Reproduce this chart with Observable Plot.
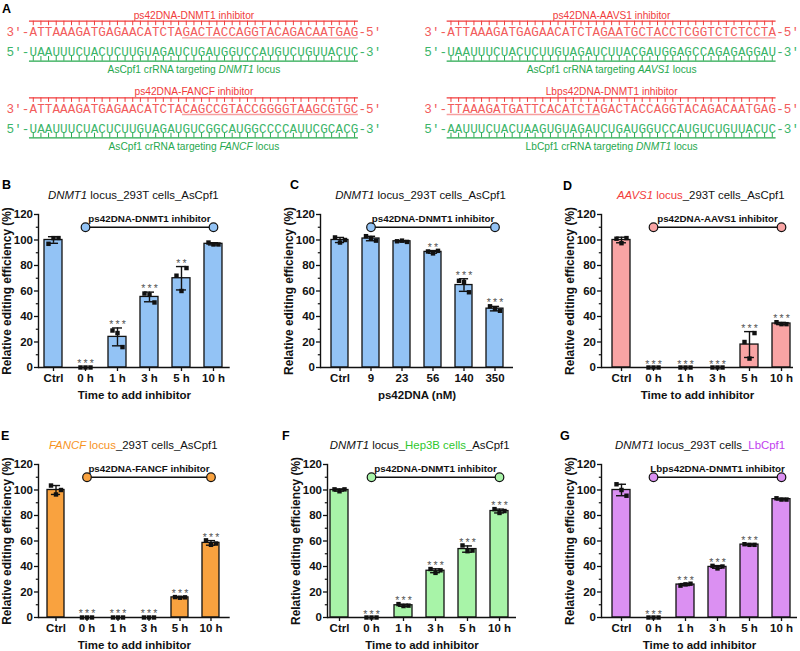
<!DOCTYPE html>
<html><head><meta charset="utf-8">
<script src="https://cdn.jsdelivr.net/npm/d3@7"></script>
<script src="https://cdn.jsdelivr.net/npm/@observablehq/plot@0.6"></script>
<style>
body{margin:0;background:#fff;width:800px;height:651px;overflow:hidden;position:relative;font-family:"Liberation Sans",Arial,sans-serif;}
.abs{position:absolute;}
.letter{font-weight:bold;font-size:12.5px;line-height:1;}
.title{font-size:11.4px;line-height:14px;white-space:nowrap;transform:translateX(-50%);color:#111;}
svg{overflow:visible;}
</style></head><body>
<script>
// ---------------- Panel A data ----------------
const seqInhibitorLabels = ["ps42DNA-DNMT1 inhibitor","ps42DNA-AAVS1 inhibitor","ps42DNA-FANCF inhibitor","Lbps42DNA-DNMT1 inhibitor"];
const seqEnzymes = ["AsCpf1","AsCpf1","AsCpf1","LbCpf1"];
const seqLoci = ["DNMT1","AAVS1","FANCF","DNMT1"];
const seqInhibitorStrands = [
  "ATTAAAGATGAGAACATCTAGACTACCAGGTACAGACAATGAG",
  "ATTAAAGATGAGAACATCTAGAATGCTACCTCGGTCTCTCCTA",
  "ATTAAAGATGAGAACATCTACAGCCGTACCGGGGTAAGCGTGC",
  "TTAAAGATGATTCACATCTAGACTACCAGGTACAGACAATGAG"];
const seqCrRNAStrands = [
  "UAAUUUCUACUCUUGUAGAUCUGAUGGUCCAUGUCUGUUACUC",
  "UAAUUUCUACUCUUGUAGAUCUUACGAUGGAGCCAGAGAGGAU",
  "UAAUUUCUACUCUUGUAGAUGUCGGCAUGGCCCCAUUCGCACG",
  "AAUUUCUACUAAGUGUAGAUCUGAUGGUCCAUGUCUGUUACUC"];
const seqUnderlineStart = [20, 20, 20, 0];
const seqUnderlineEnd = [43, 43, 43, 20];

// ---------------- Bar panel data ----------------
const panelLetters = ["B","C","D","E","F","G"];
const timeCategories = ["Ctrl","0 h","1 h","3 h","5 h","10 h"];
const doseCategories = ["Ctrl","9","23","56","140","350"];
const xAxisTitles = ["Time to add inhibitor","ps42DNA (nM)","Time to add inhibitor","Time to add inhibitor","Time to add inhibitor","Time to add inhibitor"];
const yAxisTitle = "Relative editing efficiency (%)";
const inhibitorLabels = ["ps42DNA-DNMT1 inhibitor","ps42DNA-DNMT1 inhibitor","ps42DNA-AAVS1 inhibitor","ps42DNA-FANCF inhibitor","ps42DNA-DNMT1 inhibitor","Lbps42DNA-DNMT1 inhibitor"];
const barColors = ["#93c3f5","#93c3f5","#f9a4a4","#f9a23f","#a8f4a8","#db90f2"];
// title segments: [text, colour or null, italic]
const panelTitles = [
  [["DNMT1",null,true],[" locus_293T cells_AsCpf1",null,false]],
  [["DNMT1",null,true],[" locus_293T cells_AsCpf1",null,false]],
  [["AAVS1","#f23c3c",true],[" locus","#f23c3c",false],["_293T cells_AsCpf1",null,false]],
  [["FANCF","#f7931e",true],[" locus","#f7931e",false],["_293T cells_AsCpf1",null,false]],
  [["DNMT1",null,true],[" locus_",null,false],["Hep3B cells","#2ec82e",false],["_AsCpf1",null,false]],
  [["DNMT1",null,true],[" locus_293T cells_",null,false],["LbCpf1","#c23ff0",false]]
];
const replicatesB = [[97,101.5,101.5],[0,0,0],[29,27,16],[58,57,51],[72,60,78],[98,96.5,96.5]];
const replicatesC = [[102,98,100],[103,101,99.5],[99,99.5,98.5],[91,89.5,91.5],[68,67,59],[48,46,44.5]];
const replicatesD = [[101,97.5,101.5],[0,0,0],[0,0,0],[0,0,0],[20,7,27],[35.5,34,34]];
const replicatesE = [[103.5,96.5,100],[0,0,0],[0,0,0],[0,0,0],[16,15.5,15.8],[60.5,57,58]];
const replicatesF = [[100.5,99,100.5],[0,0,0],[10.5,9,9.3],[38,35,37],[56.5,52,52.5],[85,82,83.5]];
const replicatesG = [[104.5,100,95.5],[0,0,0],[25,26,26.5],[40.5,38.5,40],[57.5,57,57],[93.5,92.5,92.5]];
const starsB = ["","***","***","***","**",""];
const starsC = ["","","","**","***","***"];
const starsD = ["","***","***","***","***","***"];
const starsE = ["","***","***","***","***","***"];
const starsF = ["","***","***","***","***","***"];
const starsG = ["","***","***","***","***",""];
const yTicks = [0,20,40,60,80,100,120];
const yMinorTicks = [10,30,50,70,90,110];
const inhibitorLevel = 110;

// ---------------- Panel A ----------------
(function(){
  const CW = 7.65;
  const colOrigin = [6/CW, 423.7/CW];
  const rowBase = [0, 76.7];
  const RED = "#f03c3c", RED_T = "#f25c5c", GREEN = "#27a84e", GREEN_T = "#3cb56a";
  const chars = [], ticks = [], lines = [], under = [], labels = [];
  seqInhibitorStrands.forEach((s, i) => {
    const o = colOrigin[i % 2], b = rowBase[i >> 1];
    const red = "3\u2032-" + s + "-5\u2032";
    const grn = "5\u2032-" + seqCrRNAStrands[i] + "-3\u2032";
    [...red].forEach((ch, k) => chars.push({x: o + k + 0.5, y: b + 31.7, ch, c: RED_T}));
    [...grn].forEach((ch, k) => chars.push({x: o + k + 0.5, y: b + 51.3, ch, c: GREEN_T}));
    const n = s.length;
    for (let k = 0; k < n; k++) {
      ticks.push({x: o + 3 + k + 0.5, y1: b + 20.7, y2: b + 25.2, c: RED});
      ticks.push({x: o + 3 + k + 0.5, y1: b + 56, y2: b + 60.7, c: GREEN});
    }
    lines.push({x1: o + 3, x2: o + 3 + n, y: b + 20.7, c: RED});
    lines.push({x1: o + 3, x2: o + 3 + n, y: b + 60.7, c: GREEN});
    under.push({x1: o + 3 + seqUnderlineStart[i], x2: o + 3 + seqUnderlineEnd[i], y: b + 37.3});
    labels.push({x: o + 3 + n / 2, y: b + 14.8, t: seqInhibitorLabels[i], c: RED});
    labels.push({x: o + 3 + n / 2, y: b + 69.2, t: seqEnzymes[i] + " crRNA targeting " + seqLoci[i] + " locus", c: GREEN, idx: i});
  });
  const svg = Plot.plot({
    width: 800, height: 156, margin: 0,
    x: {domain: [0, 800 / CW], range: [0, 800], axis: null},
    y: {domain: [0, 156], range: [0, 156], axis: null},
    style: {fontFamily: "Liberation Sans, Arial, sans-serif", background: "transparent"},
    marks: [
      Plot.ruleY(under, {x1: "x1", x2: "x2", y: "y", stroke: "#f6a0a0", strokeWidth: 1.3}),
      Plot.text(chars, {x: "x", y: "y", text: "ch", fill: "c", fontFamily: "Liberation Mono, monospace", fontSize: 12.6}),
      Plot.ruleX(ticks, {x: "x", y1: "y1", y2: "y2", stroke: "c", strokeWidth: 1}),
      Plot.ruleY(lines, {x1: "x1", x2: "x2", y: "y", stroke: "c", strokeWidth: 1.3}),
      Plot.text(labels, {x: "x", y: "y", text: "t", fill: "c", fontSize: 10.2})
    ]
  });
  svg.style.position = "absolute"; svg.style.left = "0px"; svg.style.top = "0px";
  svg.querySelectorAll("text").forEach(t => {
    const m = t.textContent.match(/^(.* crRNA targeting )(\S+)( locus)$/);
    if (m) {
      t.textContent = "";
      const ns = "http://www.w3.org/2000/svg";
      [[m[1], false], [m[2], true], [m[3], false]].forEach(([s, it]) => {
        const sp = document.createElementNS(ns, "tspan");
        sp.textContent = s; if (it) sp.setAttribute("font-style", "italic");
        t.appendChild(sp);
      });
    }
  });
  document.body.appendChild(svg);
  const a = document.createElement("div");
  a.className = "abs letter"; a.style.left = "2px"; a.style.top = "2.5px"; a.textContent = "A";
  document.body.appendChild(a);
})();

// ---------------- Bar panels ----------------
const layout = [
  {axis: 38.3, first: 53.5, last: 213.5, end: 230, y120: 214.3, title: 133.3, lx: 2, ly: 179},
  {axis: 320, first: 337.7, last: 496.7, end: 513, y120: 214.3, title: 420.5, lx: 290, ly: 179},
  {axis: 601, first: 620, last: 781.7, end: 793, y120: 214.3, title: 700.7, lx: 563, ly: 180},
  {axis: 38.3, first: 54, last: 213.3, end: 230, y120: 464.3, title: 133.3, lx: 1, ly: 430},
  {axis: 327, first: 337.7, last: 500, end: 516, y120: 464.3, title: 419.7, lx: 282, ly: 430},
  {axis: 601, first: 620.7, last: 781.7, end: 797, y120: 464.3, title: 700, lx: 560, ly: 430}
];
const allReps = [replicatesB, replicatesC, replicatesD, replicatesE, replicatesF, replicatesG];
const allStars = [starsB, starsC, starsD, starsE, starsF, starsG];
const allCats = [timeCategories, doseCategories, timeCategories, timeCategories, timeCategories, timeCategories];

panelLetters.forEach((letter, p) => {
  const L = layout[p], cats = allCats[p], reps = allReps[p], stars = allStars[p], color = barColors[p];
  const mL = 40, mT = 12, mB = 36, plotH = 153;
  const left = L.axis - mL;
  const width = L.end - left;
  const step = (L.last - L.first) / (cats.length - 1);
  const r0 = mL + (L.first - L.axis) - step / 2;
  const r1 = r0 + step * cats.length;
  const rows = cats.map((c, i) => {
    const v = reps[i], m = d3.mean(v), sd = d3.deviation(v) || 0;
    return {cat: c, mean: m, lo: m - sd, hi: m + sd, sd, stars: stars[i].split("").join("\u2009")};
  });
  const pts = cats.flatMap((c, i) => reps[i].map((v, j) => ({cat: c, v, j})));
  const eb = rows.filter(d => d.sd > 0.2);
  const ends = [{cat: cats[1]}, {cat: cats[cats.length - 1]}];
  const bw = step * 0.56, capInset = (bw - 10) / 2;
  const svg = Plot.plot({
    width, height: mT + plotH + mB, marginLeft: mL, marginTop: mT, marginBottom: mB, marginRight: 0,
    x: {type: "band", domain: cats, range: [r0, r1], paddingInner: 0.44, paddingOuter: 0.22},
    y: {domain: [0, 120]},
    style: {fontFamily: "Liberation Sans Narrow, Liberation Sans, Arial, sans-serif", fontWeight: "bold", fontSize: "11.5px", color: "#111", background: "transparent"},
    marks: [
      Plot.barY(rows, {x: "cat", y: "mean", fill: color, stroke: "#111", strokeWidth: 1.3}),
      Plot.ruleX(eb, {x: "cat", y1: "lo", y2: "hi", stroke: "#111", strokeWidth: 1.4}),
      Plot.tickY(eb, {x: "cat", y: "hi", stroke: "#111", strokeWidth: 1.4, insetLeft: capInset, insetRight: capInset}),
      Plot.tickY(eb, {x: "cat", y: "lo", stroke: "#111", strokeWidth: 1.4, insetLeft: capInset, insetRight: capInset}),
      Plot.dot(pts.filter(d => d.j === 0), {x: "cat", y: "v", symbol: "square", r: 2.5, fill: "#111", dx: -5}),
      Plot.dot(pts.filter(d => d.j === 1), {x: "cat", y: "v", symbol: "square", r: 2.5, fill: "#111", dx: 0}),
      Plot.dot(pts.filter(d => d.j === 2), {x: "cat", y: "v", symbol: "square", r: 2.5, fill: "#111", dx: 5}),
      Plot.text(rows.filter(d => d.stars), {x: "cat", y: d => d.hi + 5, text: "stars", fontSize: 10.5, fontWeight: "normal", fill: "#555", dy: 3, fontFamily: "Liberation Sans, Arial, sans-serif"}),
      Plot.link([{a: cats[1], b: cats[cats.length - 1]}], {x1: "a", x2: "b", y1: () => inhibitorLevel, y2: () => inhibitorLevel, stroke: "#111", strokeWidth: 1.3}),
      Plot.dot(ends, {x: "cat", y: () => inhibitorLevel, r: 4.3, fill: color, stroke: "#111", strokeWidth: 1.2}),
      Plot.text([inhibitorLabels[p]], {x: () => cats[3], y: () => inhibitorLevel + 6.5, fontSize: 9.8, fontFamily: "Liberation Sans, Arial, sans-serif"}),
      Plot.axisY({ticks: yTicks, tickSize: 4, tickPadding: 1.5, label: null, strokeWidth: 1.3}),
      Plot.axisY({ticks: yMinorTicks, tickSize: 2.2, tickFormat: () => "", label: null, strokeWidth: 1.2}),
      Plot.axisX({tickSize: 4, tickPadding: 2.5, label: null, strokeWidth: 1.3}),
      Plot.frame({anchor: "left", stroke: "#111", strokeWidth: 1.4}),
      Plot.ruleY([0], {stroke: "#111", strokeWidth: 1.4}),
      Plot.text([yAxisTitle], {frameAnchor: "left", rotate: -90, dx: -31, textAnchor: "middle", lineAnchor: "middle", fontSize: 11.9, fontFamily: "Liberation Sans, Arial, sans-serif"}),
      Plot.text([xAxisTitles[p]], {frameAnchor: "bottom", dy: 27.6, textAnchor: "middle", lineAnchor: "middle", fontSize: 11.5, fontFamily: "Liberation Sans, Arial, sans-serif"})
    ]
  });
  svg.style.position = "absolute";
  svg.style.left = left + "px";
  svg.style.top = (L.y120 - mT) + "px";
  document.body.appendChild(svg);

  const t = document.createElement("div");
  t.className = "abs title";
  t.style.left = L.title + "px";
  t.style.top = (L.y120 - 19.3 - 7) + "px";
  panelTitles[p].forEach(([s, c, it]) => {
    const sp = document.createElement("span");
    sp.textContent = s;
    if (c) sp.style.color = c;
    if (it) sp.style.fontStyle = "italic";
    t.appendChild(sp);
  });
  document.body.appendChild(t);

  const lt = document.createElement("div");
  lt.className = "abs letter"; lt.style.left = L.lx + "px"; lt.style.top = L.ly + "px"; lt.textContent = letter;
  document.body.appendChild(lt);
});
</script>
</body></html>
